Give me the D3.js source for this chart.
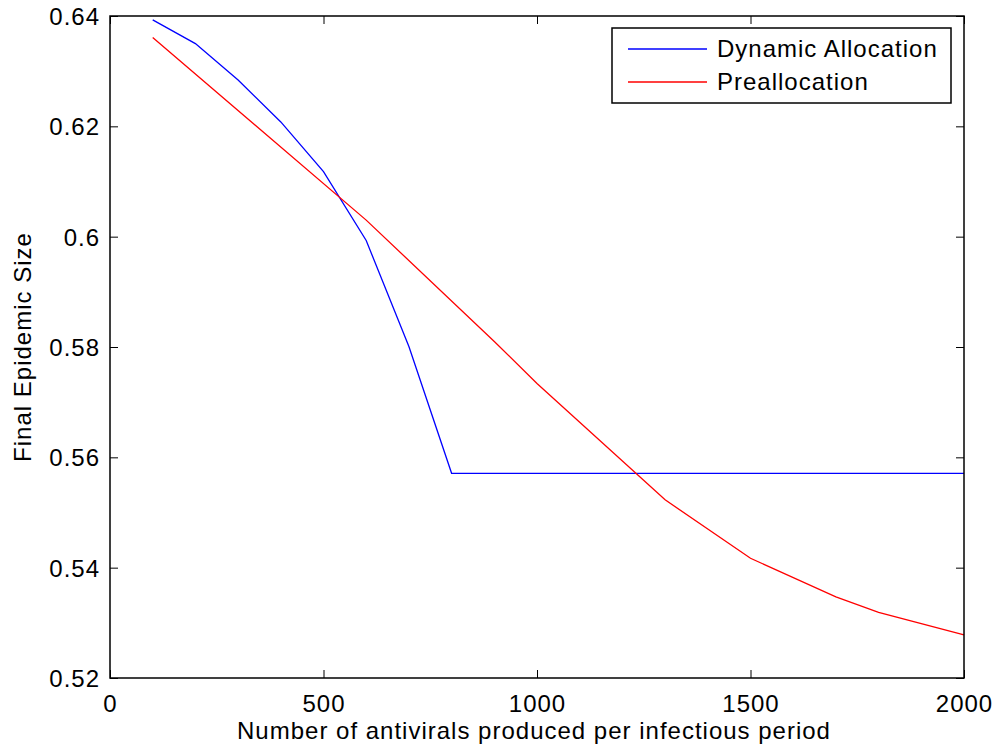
<!DOCTYPE html>
<html>
<head>
<meta charset="utf-8">
<script src="https://cdn.jsdelivr.net/npm/d3@7"></script>
<style>
  body { margin: 0; background: #fff; }
  svg text { font-family: "Liberation Sans", Arial, Helvetica, sans-serif; letter-spacing: 1px; }
</style>
</head>
<body>
<div id="wrapper"></div>
<script>
// values
const dynamicX = [100, 200, 300, 400, 500, 600, 700, 800, 2000]
const dynamicY = [0.6393, 0.6350, 0.6284, 0.6208, 0.6118, 0.5993, 0.5801, 0.5571, 0.5571]

const preX = [100, 600, 900, 1000, 1300, 1500, 1700, 1800, 2000]
const preY = [0.6361, 0.6030, 0.5810, 0.5734, 0.5523, 0.5417, 0.5347, 0.5319, 0.5278]

const xTicks = [0, 500, 1000, 1500, 2000]
const yTicks = [0.52, 0.54, 0.56, 0.58, 0.6, 0.62, 0.64]

const seriesNames = ["Dynamic Allocation", "Preallocation"]
const seriesColors = ["#0000ff", "#ff0000"]

// 1. dimensions
const dimensions = {
    width: 1000,
    height: 751,
    margins: { top: 16, right: 36, bottom: 73, left: 110 }
}
dimensions.boundedWidth = dimensions.width - dimensions.margins.left - dimensions.margins.right
dimensions.boundedHeight = dimensions.height - dimensions.margins.top - dimensions.margins.bottom

// 2. canvas
const wrapper = d3.select("#wrapper")
    .append("svg")
        .attr("width", dimensions.width)
        .attr("height", dimensions.height)

const bounds = wrapper.append("g")
    .attr("transform", `translate(${dimensions.margins.left},${dimensions.margins.top})`)

// 3. scales
const xScale = d3.scaleLinear()
    .domain([0, 2000])
    .range([0, dimensions.boundedWidth])

const yScale = d3.scaleLinear()
    .domain([0.52, 0.64])
    .range([dimensions.boundedHeight, 0])

// 4. lines
const lineGen = d3.line()
    .x(d => xScale(d[0]))
    .y(d => yScale(d[1]))

const series = [
    d3.zip(dynamicX, dynamicY),
    d3.zip(preX, preY)
]

bounds.selectAll(".series")
    .data(series)
    .enter().append("path")
        .attr("class", "series")
        .attr("d", lineGen)
        .attr("fill", "none")
        .attr("stroke", (d, i) => seriesColors[i])
        .attr("stroke-width", 1.3)

// 5. axes (matlab style: inward ticks on all sides)
const tickLen = 8
const fontSize = "24px"

const xAxis = bounds.append("g")
    .attr("transform", `translate(0,${dimensions.boundedHeight})`)
    .call(d3.axisBottom(xScale).tickValues(xTicks).tickFormat(d3.format("d")).tickSizeInner(-tickLen).tickSizeOuter(0).tickPadding(20))
const xTop = bounds.append("g")
    .call(d3.axisTop(xScale).tickValues(xTicks).tickSizeInner(-tickLen).tickSizeOuter(0).tickFormat(""))
const yAxis = bounds.append("g")
    .call(d3.axisLeft(yScale).tickValues(yTicks).tickFormat(d3.format("~g")).tickSizeInner(-tickLen).tickSizeOuter(0).tickPadding(10))
const yRight = bounds.append("g")
    .attr("transform", `translate(${dimensions.boundedWidth},0)`)
    .call(d3.axisRight(yScale).tickValues(yTicks).tickSizeInner(-tickLen).tickSizeOuter(0).tickFormat(""))

;[xAxis, xTop, yAxis, yRight].forEach(a => {
    a.select(".domain").remove()
    a.selectAll("line").attr("stroke", "#000").attr("stroke-width", 1)
    a.selectAll("text")
        .attr("fill", "#000")
        .style("font-size", fontSize)
        .style("font-family", '"Liberation Sans", Arial, sans-serif')
})
xAxis.selectAll("text").attr("dy", "0.6em")
yAxis.selectAll("text").attr("dy", "0.35em")

bounds.append("rect")
    .attr("width", dimensions.boundedWidth)
    .attr("height", dimensions.boundedHeight)
    .attr("fill", "none")
    .attr("stroke", "#000")
    .attr("stroke-width", 1.5)

// labels
wrapper.append("text")
    .attr("x", dimensions.margins.left + dimensions.boundedWidth / 2 - 3)
    .attr("y", 739)
    .attr("text-anchor", "middle")
    .style("font-size", fontSize)
    .text("Number of antivirals produced per infectious period")

wrapper.append("text")
    .attr("transform", `translate(31,${dimensions.margins.top + dimensions.boundedHeight / 2}) rotate(-90)`)
    .attr("text-anchor", "middle")
    .style("font-size", fontSize)
    .text("Final Epidemic Size")

// legend
const legend = wrapper.append("g")
    .attr("transform", "translate(612,28)")

legend.append("rect")
    .attr("width", 339)
    .attr("height", 75)
    .attr("fill", "#fff")
    .attr("stroke", "#000")
    .attr("stroke-width", 1.5)

const items = legend.selectAll(".item")
    .data(seriesNames)
    .enter().append("g")
        .attr("transform", (d, i) => `translate(0,${21 + i * 33})`)

items.append("line")
    .attr("x1", 16).attr("x2", 95)
    .attr("stroke", (d, i) => seriesColors[i])
    .attr("stroke-width", 1.3)

items.append("text")
    .attr("x", 105)
    .attr("dy", "0.35em")
    .style("font-size", fontSize)
    .text(d => d)
</script>
</body>
</html>
